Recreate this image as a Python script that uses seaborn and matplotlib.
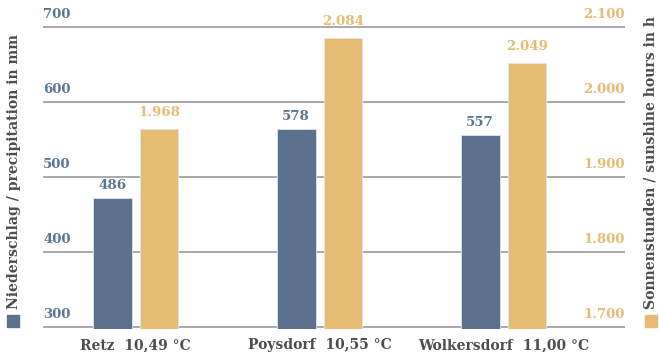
import matplotlib
matplotlib.use('Agg')
import matplotlib.pyplot as plt
import seaborn as sns
import pandas as pd
from matplotlib.patches import Rectangle
from matplotlib.transforms import blended_transform_factory, offset_copy

# ---- data ----
stations = ['Retz', 'Poysdorf', 'Wolkersdorf']
temps = ['10,49 °C', '10,55 °C', '11,00 °C']
precip_bars = [472, 564, 556]          # bar heights as drawn (mm)
precip_labels = ['486', '578', '557']
sun_bars = [1964, 2086, 2052]          # bar heights as drawn (h)
sun_labels = ['1.968', '2.084', '2.049']
left_ticks = [300, 400, 500, 600, 700]
left_ticklabels = ['300', '400', '500', '600', '700']
right_ticks = [1700, 1800, 1900, 2000, 2100]
right_ticklabels = ['1.700', '1.800', '1.900', '2.000', '2.100']
left_title = 'Niederschlag / precipitation in mm'
right_title = 'Sonnenstunden / sunshine hours in h'

BLUE = '#5a728d'
BLUE_TXT = '#5b7593'
GOLD = '#e6bb72'
DARK = '#4d4d4d'
GRID = '#a8a8a8'
FONT = 'DejaVu Serif'

sns.set_theme(style='white')
plt.rcParams['font.family'] = [FONT]

W, H = 659, 352
fig = plt.figure(figsize=(W / 100, H / 100), dpi=100)
x0, x1 = 43, 625
ytop, ybot = 25.5, 328.5
ax = fig.add_axes([x0 / W, 1 - ybot / H, (x1 - x0) / W, (ybot - ytop) / H])
ax2 = ax.twinx()

labels_x = [f'{s}  {t}' for s, t in zip(stations, temps)]
df_p = pd.DataFrame({'station': labels_x, 'value': precip_bars, 'series': 'p'})
df_s = pd.DataFrame({'station': labels_x, 'value': sun_bars, 'series': 's'})

common = dict(x='station', y='value', hue='series', hue_order=['p', 's'],
              order=labels_x, width=0.51, gap=0.17, legend=False, dodge=True,
              saturation=1, edgecolor='#dfe4ea', linewidth=0.6)
sns.barplot(data=df_p, palette={'p': BLUE, 's': GOLD}, ax=ax, **common)
sns.barplot(data=df_s, palette={'p': BLUE, 's': GOLD}, ax=ax2, **common)

ax.set_ylim(298, 702)
ax2.set_ylim(1698, 2102)
ax.set_xlim(-0.503, 2.660)
ax2.set_xlim(-0.503, 2.660)

for a in (ax, ax2):
    for sp in a.spines.values():
        sp.set_visible(False)
    a.set_xlabel('')
    a.set_ylabel('')
    a.tick_params(length=0)

ax.set_yticks(left_ticks)
ax.set_yticklabels([])
ax2.set_yticks(right_ticks)
ax2.set_yticklabels([])
ax.grid(axis='y', color=GRID, linewidth=1.4)
ax.grid(axis='x', visible=False)
ax2.grid(False)
ax.set_axisbelow(True)

ax.tick_params(axis='x', pad=7)
for t in ax.get_xticklabels():
    t.set_fontsize(10)
    t.set_fontweight('bold')
    t.set_color(DARK)
    t.set_family(FONT)

# y tick labels sitting above gridlines
trl = offset_copy(blended_transform_factory(ax.transAxes, ax.transData), fig=fig, x=0, y=4, units='points')
for v, s in zip(left_ticks, left_ticklabels):
    ax.text(0, v, s, transform=trl, ha='left', va='bottom', fontsize=9.5,
            fontweight='bold', color=BLUE_TXT, family=FONT, clip_on=False)
trr = offset_copy(blended_transform_factory(ax2.transAxes, ax2.transData), fig=fig, x=0, y=4, units='points')
for v, s in zip(right_ticks, right_ticklabels):
    ax2.text(1, v, s, transform=trr, ha='right', va='bottom', fontsize=9.5,
             fontweight='bold', color=GOLD, family=FONT, clip_on=False)

# value labels
ax.bar_label(ax.containers[0], labels=precip_labels, padding=4, fontsize=9.6,
             fontweight='bold', color=BLUE_TXT, family=FONT)
ax2.bar_label(ax2.containers[-1], labels=sun_labels, padding=7, fontsize=9.6,
              fontweight='bold', color=GOLD, family=FONT)

# axis titles with colored squares
fig.text(14 / W, 1 - 309 / H, left_title, rotation=90, ha='center', va='bottom',
         fontsize=10.1, fontweight='bold', color=DARK, family=FONT)
fig.patches.append(Rectangle((7 / W, 1 - 327 / H), 12 / W, 12 / H,
                             transform=fig.transFigure, color=BLUE))
fig.text(651 / W, 1 - 309 / H, right_title, rotation=90, ha='center', va='bottom',
         fontsize=10.1, fontweight='bold', color=DARK, family=FONT)
fig.patches.append(Rectangle((645 / W, 1 - 327 / H), 12 / W, 12 / H,
                             transform=fig.transFigure, color=GOLD))

fig.savefig('out.png', dpi=100)
